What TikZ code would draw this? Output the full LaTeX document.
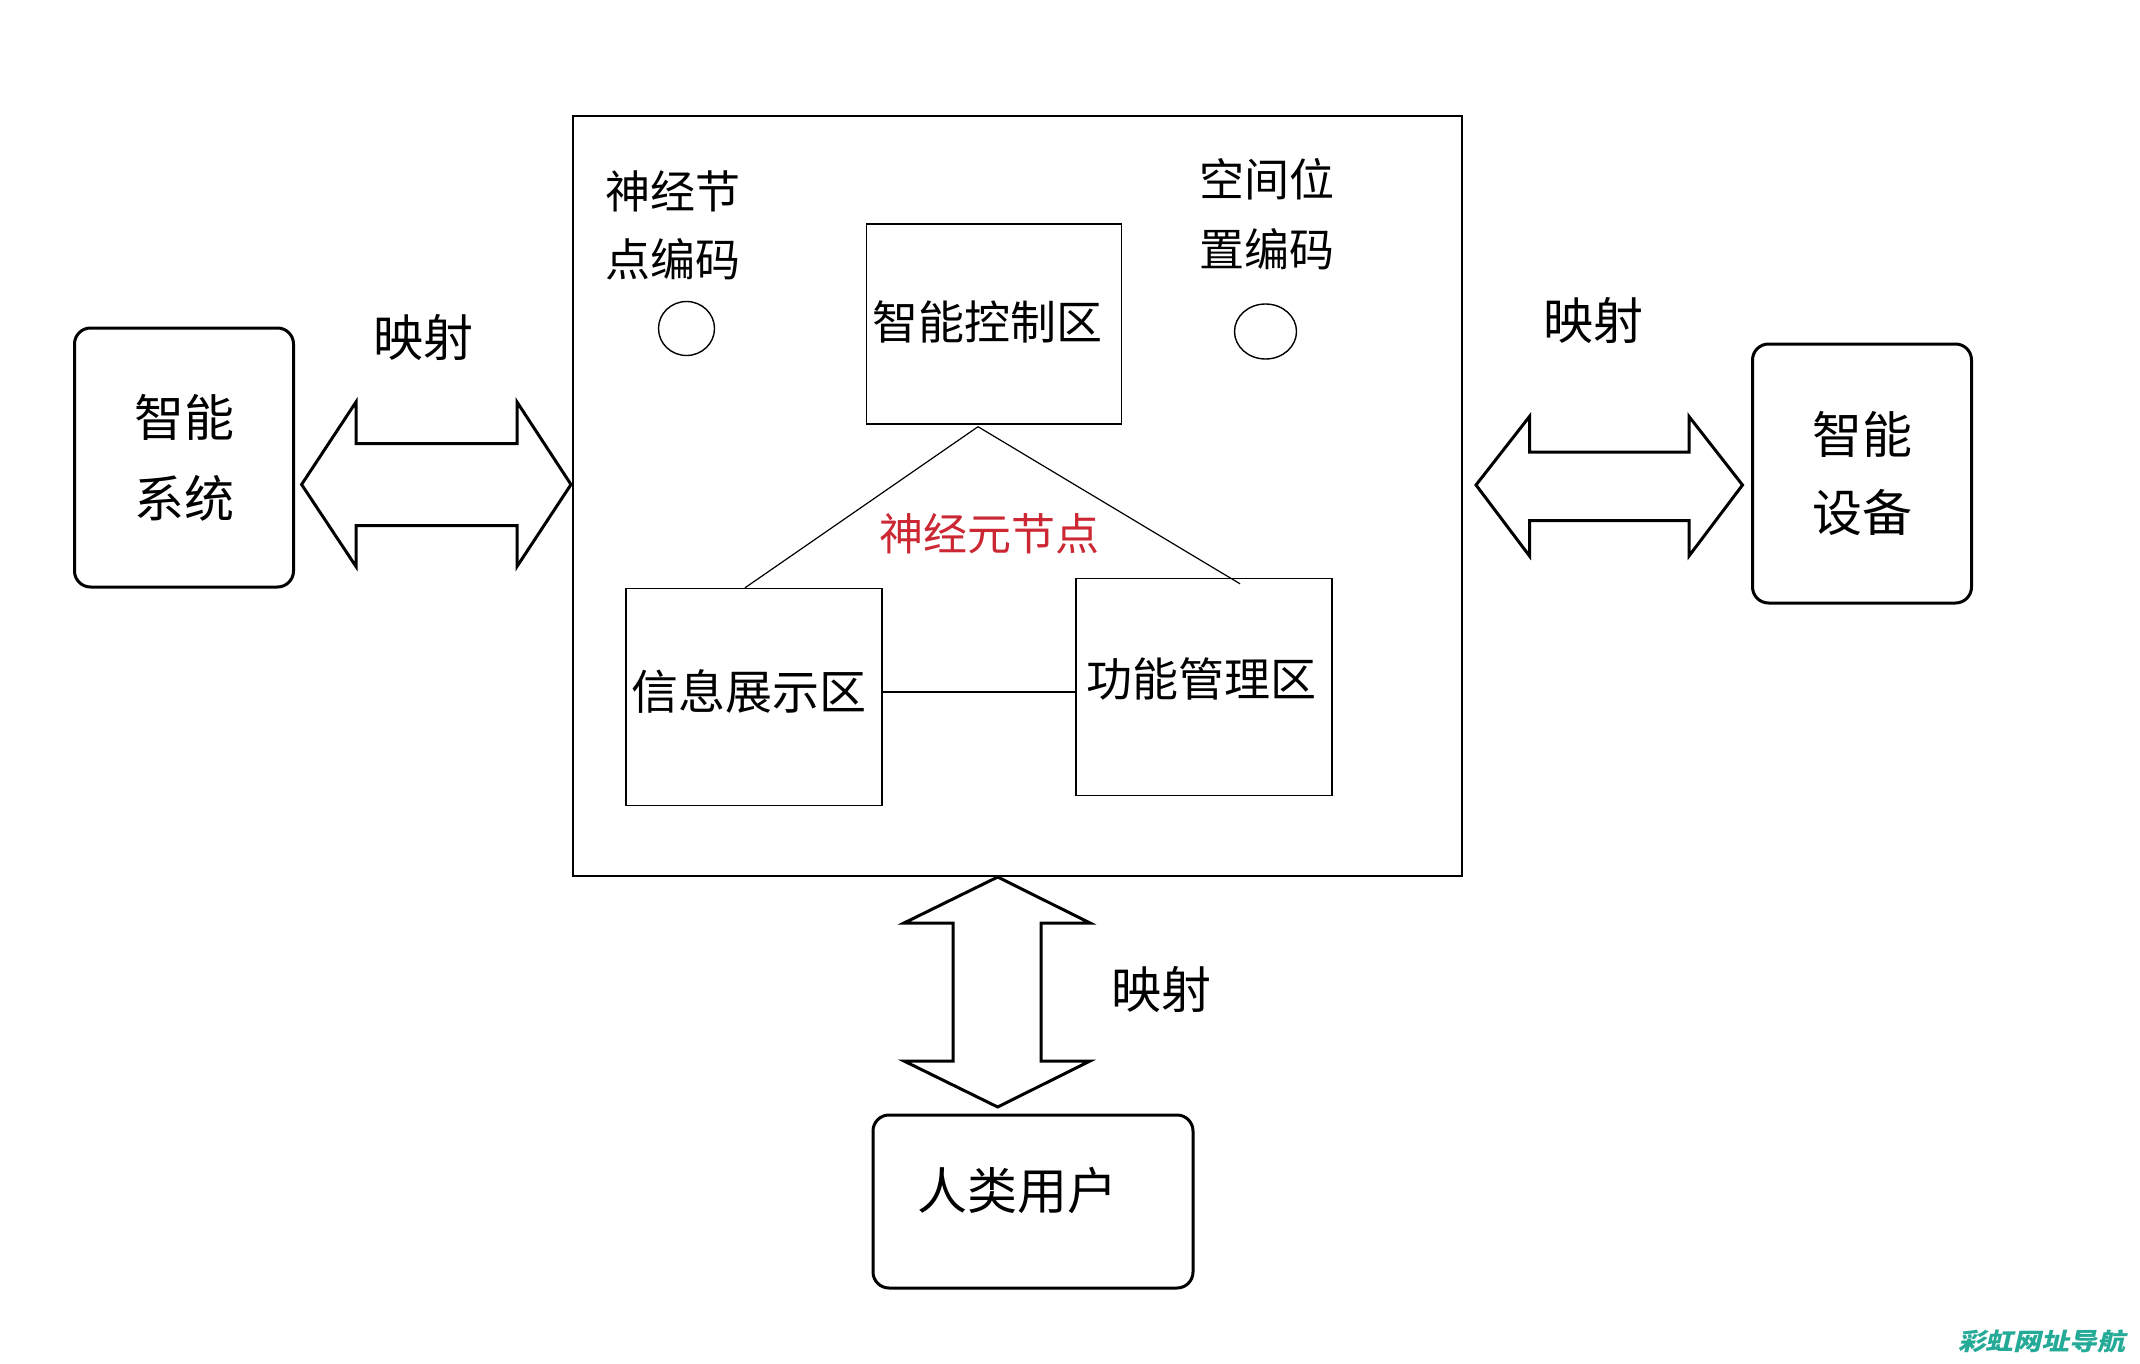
\documentclass[tikz,border=0pt]{standalone}
\usepackage{fontspec}
\newfontfamily\cjk{Noto Sans CJK SC}
\usetikzlibrary{shapes.geometric,calc}
\definecolor{nred}{RGB}{204,40,52}
\definecolor{wmark}{RGB}{36,170,150}
\tikzset{
  thinbox/.style={draw=black, line width=1.4pt, inner sep=0pt},
  rbox/.style={draw=black, line width=3pt, rounded corners=16pt, inner sep=0pt},
  bigarrow/.style={draw=black, line width=3pt, fill=white, line join=miter},
  link/.style={draw=black, line width=1.2pt},
  ring/.style={draw=black, line width=1.4pt, ellipse, inner sep=0pt},
  txt/.style={inner sep=0pt, align=center, font=\cjk\fontsize{46}{68}\selectfont},
}
\begin{document}
\begin{tikzpicture}[x=1pt,y=-1pt]
\useasboundingbox[fill=white] (0,0) rectangle (2140,1364);

% main frame
\node[thinbox, minimum width=889, minimum height=760] (main) at (1017.5,496) {};

% outer rounded boxes
\node[rbox, minimum width=219, minimum height=259, align=center,
      font=\cjk\fontsize{50}{81}\selectfont] (sys) at (184,457.5) {智能\\系统};
\node[rbox, minimum width=219, minimum height=259, align=center,
      font=\cjk\fontsize{50}{78}\selectfont] (dev) at (1862,473.5) {智能\\设备};
\node[rbox, minimum width=320, minimum height=173] (user) at (1033,1201.5) {};
\node[txt, font=\cjk\fontsize{50}{60}\selectfont] (userT) at ($(user.center)+(-16,-11)$) {人类用户};

% double arrows (mapping connectors)
\draw[bigarrow] (301.6,484.5) -- (356,402) -- (356,443.5) -- (517,443.5) -- (517,402)
  -- (571,484.5) -- (517,566.5) -- (517,525.5) -- (356,525.5) -- (356,566.5) -- cycle;
\draw[bigarrow] (1476,485) -- (1529.5,416.5) -- (1529.5,452) -- (1689,452) -- (1689,416.5)
  -- (1742.5,485) -- (1689,556) -- (1689,520.5) -- (1529.5,520.5) -- (1529.5,556) -- cycle;
\draw[bigarrow] (997.7,877) -- (1090,923) -- (1041,923) -- (1041,1061) -- (1090,1061)
  -- (997.7,1107) -- (904,1061) -- (953,1061) -- (953,923) -- (904,923) -- cycle;

\node[txt, font=\cjk\fontsize{50}{60}\selectfont] (map1) at (423,338) {映射};
\node[txt, font=\cjk\fontsize{50}{60}\selectfont] (map2) at (1593,321) {映射};
\node[txt, font=\cjk\fontsize{50}{60}\selectfont] (map3) at (1161,989.5) {映射};

% inner region boxes
\node[thinbox, minimum width=255, minimum height=200] (ctrl) at (994,324) {};
\node[txt] (ctrlT) at (987,322) {智能控制区};
\node[thinbox, minimum width=256, minimum height=217] (info) at (754,697) {};
\node[txt, font=\cjk\fontsize{47}{60}\selectfont] (infoT) at (749,691) {信息展示区};
\node[thinbox, minimum width=256, minimum height=217] (func) at (1204,687) {};
\node[txt] (funcT) at (1201,679) {功能管理区};

% neuron links
\coordinate (apex) at ($(ctrl.south)+(-16,2)$);
\coordinate (rend) at ($(func.north)+(36,6)$);
\coordinate (hl) at ($(info.east)+(0,-5)$);
\draw[link] (apex) -- ($(info.north)+(-9,0)$);
\draw[link] (apex) -- (rend);
\draw[link] (hl) -- (func.west |- hl);

\node[txt, font=\cjk\fontsize{44}{60}\selectfont, text=nred] (neuron) at (989.5,534) {神经元节点};

% encodings
\node[txt, font=\cjk\fontsize{45}{68}\selectfont] (nodeT) at (673,225) {神经节\\点编码};
\node[ring, minimum width=56, minimum height=54] (c1) at (686.5,328.5) {};
\node[txt, font=\cjk\fontsize{45}{70}\selectfont] (spaceT) at (1266.5,214) {空间位\\置编码};
\node[ring, minimum width=62, minimum height=55] (c2) at (1265.5,331.5) {};

% watermark
\node[anchor=west, inner sep=0pt, text=wmark, xscale=1.16, xslant=0.2,
      font=\cjk\bfseries\fontsize{24}{28}\selectfont] (wm) at (1960,1341) {彩虹网址导航};
\end{tikzpicture}
\end{document}
